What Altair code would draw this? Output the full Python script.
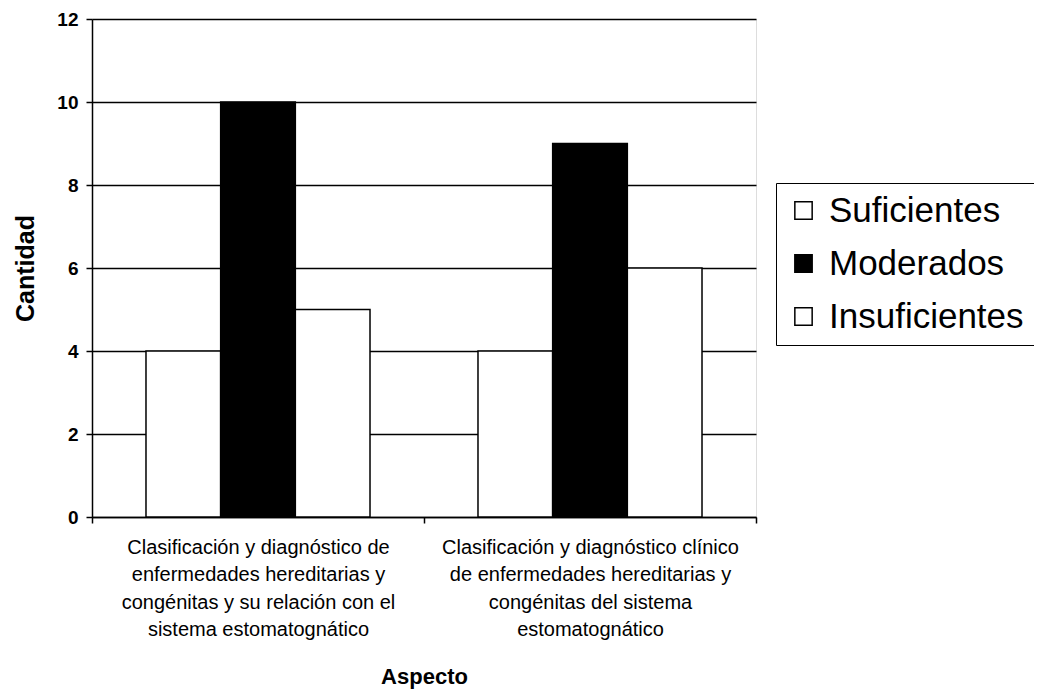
import altair as alt
import pandas as pd

categories = [
    "Clasificación y diagnóstico de\nenfermedades hereditarias y\ncongénitas y su relación con el\nsistema estomatognático",
    "Clasificación y diagnóstico clínico\nde enfermedades hereditarias y\ncongénitas del sistema\nestomatognático",
]
series = ["Suficientes", "Moderados", "Insuficientes"]
suficientes = [4, 4]
moderados = [10, 9]
insuficientes = [5, 6]
y_ticks = [0, 2, 4, 6, 8, 10, 12]

rows = []
for i, cat in enumerate(categories):
    for s, vals in zip(series, [suficientes, moderados, insuficientes]):
        rows.append({"Aspecto": cat, "Nivel": s, "Cantidad": vals[i]})
df = pd.DataFrame(rows)

FONT = "Liberation Sans"

chart = alt.Chart(df).mark_bar(stroke="black", strokeWidth=1.5, opacity=1).encode(
    x=alt.X(
        "Aspecto:N",
        sort=categories,
        title="Aspecto",
        scale=alt.Scale(paddingInner=0, paddingOuter=0),
        axis=alt.Axis(
            labelAngle=0,
            labelExpr="split(datum.label, '\\n')",
            labelFont=FONT,
            labelFontSize=20,
            labelLineHeight=27.5,
            labelColor="black",
            labelPadding=14,
            labelLimit=400,
            tickBand="extent",
            tickColor="black",
            tickSize=6,
            tickWidth=1.5,
            domainColor="black",
            domainWidth=1.5,
            titleFont=FONT,
            titleFontSize=22,
            titleFontWeight="bold",
            titleColor="black",
            titlePadding=27,
        ),
    ),
    xOffset=alt.XOffset(
        "Nivel:N", sort=series, scale=alt.Scale(paddingInner=0, paddingOuter=0.723)
    ),
    y=alt.Y(
        "Cantidad:Q",
        title="Cantidad",
        scale=alt.Scale(domain=[0, 12]),
        axis=alt.Axis(
            values=y_ticks,
            labelFont=FONT,
            labelFontSize=19,
            labelFontWeight="bold",
            labelColor="black",
            labelPadding=8,
            tickColor="black",
            tickSize=6,
            tickWidth=1.5,
            domainColor="black",
            domainWidth=1.5,
            gridColor="black",
            gridWidth=1.5,
            gridOpacity=1,
            titleFont=FONT,
            titleFontSize=25,
            titleFontWeight="bold",
            titleColor="black",
            titlePadding=18,
        ),
    ),
    fill=alt.Fill(
        "Nivel:N",
        sort=series,
        scale=alt.Scale(domain=series, range=["white", "black", "white"]),
        legend=alt.Legend(
            title=None,
            orient="none",
            legendX=684,
            legendY=164,
            symbolType="square",
            symbolSize=300,
            symbolStrokeColor="black",
            symbolStrokeWidth=1.5,
            symbolOpacity=1,
            labelFont=FONT,
            labelFontSize=35,
            labelColor="black",
            labelOffset=8,
            labelLimit=400,
            rowPadding=17,
            padding=10,
            strokeColor="black",
            fillColor="white",
        ),
    ),
).properties(
    width=664,
    height=498,
    autosize="none",
    padding={"left": 84, "top": 11, "right": 278, "bottom": 178},
).configure_view(
    stroke="black", strokeWidth=1.5
).configure(background="white")

chart.save("out.html", embed_options={"renderer": "svg", "actions": False})
